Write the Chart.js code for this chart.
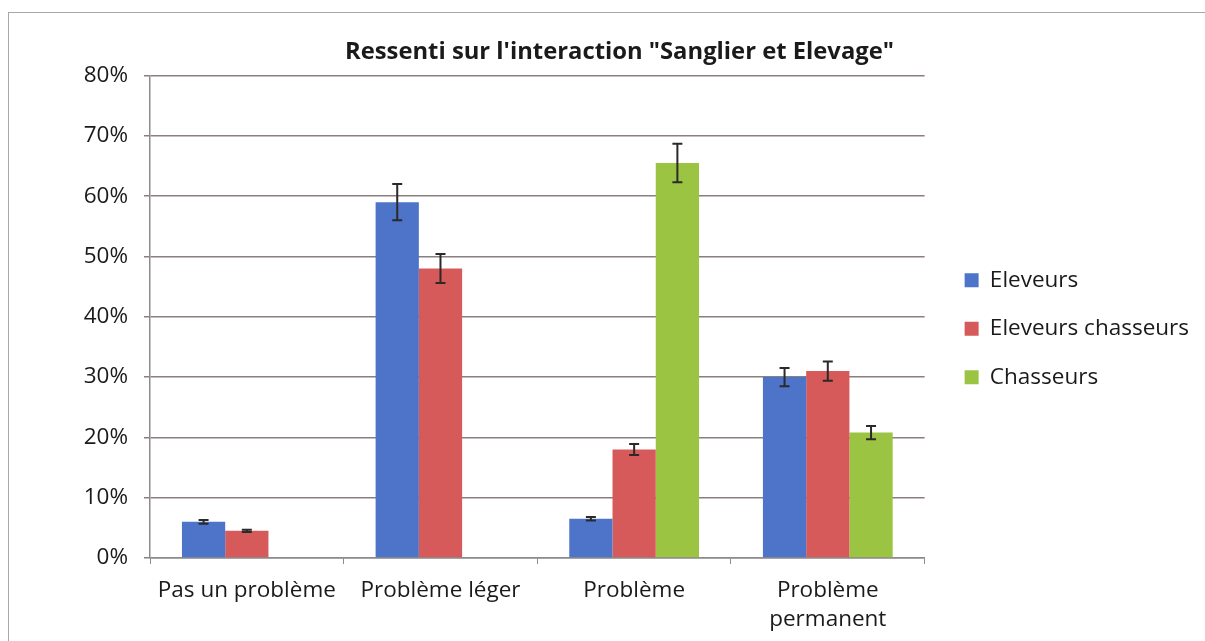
<!DOCTYPE html>
<html>
<head>
<meta charset="utf-8">
<script src="https://cdn.jsdelivr.net/npm/chart.js@4"></script>
<style>
    body { margin: 0; background: #fff; overflow: hidden; }
    #frame { position: absolute; left: 8px; top: 12px; width: 1220px; height: 660px; border: 1px solid #a8a8a8; }
    #wrap { position: absolute; left: 0; top: 0; width: 1205px; height: 641px; }
</style>
</head>
<body>
<div id="frame"></div>
<div id="wrap"><canvas id="myChart" width="1205" height="641"></canvas></div>
<script>
const categories = ['Pas un problème', 'Problème léger', 'Problème', ['Problème', 'permanent']];
const seriesNames = ['Eleveurs', 'Eleveurs chasseurs', 'Chasseurs'];
const eleveurs = [6.0, 59.0, 6.5, 30.0];
const eleveursChasseurs = [4.5, 48.0, 18.0, 31.0];
const chasseurs = [0, 0, 65.5, 20.8];
const eleveursErr = [0.3, 3.0, 0.3, 1.5];
const eleveursChasseursErr = [0.2, 2.4, 0.9, 1.6];
const chasseursErr = [0, 0, 3.2, 1.1];
const yTicks = [0, 10, 20, 30, 40, 50, 60, 70, 80];

const colors = ['#4d74c8', '#d65a5a', '#9cc443'];
const errors = [eleveursErr, eleveursChasseursErr, chasseursErr];
const font = 'Open Sans';

// error bars drawn on top of each bar
const errorBars = {
    id: 'errorBars',
    afterDatasetsDraw(chart) {
        const ctx = chart.ctx;
        const y = chart.scales.y;
        ctx.save();
        ctx.strokeStyle = '#2a2a2a';
        ctx.lineWidth = 2;
        chart.data.datasets.forEach((ds, i) => {
            const meta = chart.getDatasetMeta(i);
            meta.data.forEach((bar, j) => {
                const e = errors[i][j];
                if (!e) return;
                const top = y.getPixelForValue(ds.data[j] + e);
                const bottom = y.getPixelForValue(ds.data[j] - e);
                ctx.beginPath();
                ctx.moveTo(bar.x, top);
                ctx.lineTo(bar.x, bottom);
                ctx.moveTo(bar.x - 5, top);
                ctx.lineTo(bar.x + 5, top);
                ctx.moveTo(bar.x - 5, bottom);
                ctx.lineTo(bar.x + 5, bottom);
                ctx.stroke();
            });
        });
        ctx.restore();
    }
};

// nudge the legend right/down and the title right, like the excel one
const layoutNudge = {
    id: 'layoutNudge',
    afterLayout(chart) {
        const lg = chart.legend;
        lg.left += 14;
        lg.right += 14;
        lg.top += 12;
        lg.bottom += 12;
        const t = chart.titleBlock;
        t.left += 12;
        t.right += 12;
    }
};

const ctx = document.getElementById('myChart').getContext('2d');
const chart = new Chart(ctx, {
    type: 'bar',
    data: {
        labels: categories,
        datasets: [
            { label: seriesNames[0], data: eleveurs, backgroundColor: colors[0] },
            { label: seriesNames[1], data: eleveursChasseurs, backgroundColor: colors[1] },
            { label: seriesNames[2], data: chasseurs, backgroundColor: colors[2] }
        ]
    },
    options: {
        responsive: false,
        animation: false,
        layout: { padding: { left: 30, right: 20, top: 38, bottom: 0 } },
        datasets: { bar: { categoryPercentage: 0.67, barPercentage: 1.0 } },
        scales: {
            x: {
                grid: { drawOnChartArea: false, drawTicks: true, tickLength: 6, offset: true, color: '#8c8c8c' },
                border: { color: '#8c8c8c', width: 1.5 },
                ticks: { color: '#1a1a1a', font: { family: font, size: 22.5, lineHeight: 1.3 }, padding: 12, maxRotation: 0 },
                afterFit(scale) { scale.height = 83; }
            },
            y: {
                min: 0,
                max: 80,
                afterBuildTicks(scale) { scale.ticks = yTicks.map(v => ({ value: v })); },
                grid: { color: '#8a7f7f', lineWidth: 1.5, tickLength: 6 },
                border: { color: '#8c8c8c', width: 1.5 },
                ticks: { color: '#1a1a1a', font: { family: font, size: 22.5 }, padding: 16, callback: v => v + '%' },
                afterFit(scale) { scale.width = 120; }
            }
        },
        plugins: {
            title: {
                display: true,
                text: 'Ressenti sur l\'interaction "Sanglier et Elevage"',
                color: '#1a1a1a',
                font: { family: font, size: 23.8, weight: 'bold' },
                padding: { top: 0, bottom: 9 }
            },
            legend: {
                position: 'right',
                fullSize: false,
                labels: {
                    color: '#1a1a1a',
                    font: { family: font, size: 22.5 },
                    boxWidth: 14,
                    boxHeight: 14,
                    padding: 26
                }
            },
            tooltip: { enabled: false }
        }
    },
    plugins: [errorBars, layoutNudge]
});
</script>
</body>
</html>
